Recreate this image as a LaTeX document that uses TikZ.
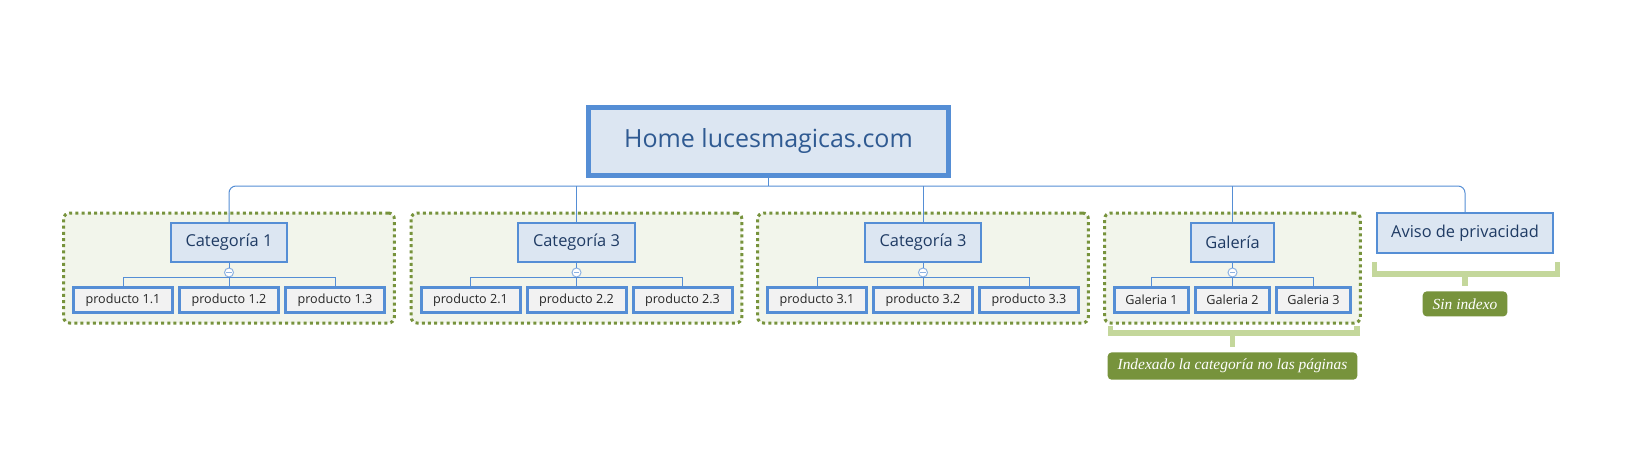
\documentclass[tikz,border=0pt]{standalone}
\usepackage{fontspec}
\setmainfont{Open Sans}
\newfontfamily\tagfont{Liberation Serif}
\usetikzlibrary{positioning,calc,fit,backgrounds}
\definecolor{smBoxBlue}{RGB}{220,230,242}
\definecolor{smLineBlue}{RGB}{85,142,213}
\definecolor{smTextBlue}{RGB}{31,59,100}
\definecolor{smHomeText}{RGB}{47,90,146}
\definecolor{smGray}{RGB}{242,242,242}
\definecolor{smOlive}{RGB}{119,147,60}
\definecolor{smPale}{RGB}{242,245,235}
\definecolor{smBrace}{RGB}{196,215,155}
\definecolor{smFold}{RGB}{141,179,226}
\begin{document}
\begin{tikzpicture}[x=0.5pt,y=-0.5pt,
  home/.style={draw=smLineBlue,line width=2.5pt,fill=smBoxBlue,text=smHomeText,minimum width=180pt,minimum height=34pt,font=\fontsize{12.5}{15}\selectfont},
  cat/.style={draw=smLineBlue,line width=1pt,fill=smBoxBlue,text=smTextBlue,inner xsep=7.3pt,minimum height=19.5pt,font=\fontsize{8.2}{10}\selectfont},
  prod/.style={draw=smLineBlue,line width=1.5pt,fill=smGray,text=black!85,minimum width=49.5pt,minimum height=12.5pt,inner sep=0pt,font=\fontsize{6.3}{7.5}\selectfont},
  gal/.style={prod,minimum width=37pt},
  fold/.style={circle,draw=smFold,fill=white,line width=0.5pt,minimum size=4.5pt,inner sep=0pt,
    path picture={\draw[smFold,line width=0.5pt] ([xshift=-1.3pt]path picture bounding box.center) -- ([xshift=1.3pt]path picture bounding box.center);}},
  link/.style={draw=smLineBlue,line width=0.5pt},
  group/.style={draw=smOlive,fill=smPale,line width=1.5pt,dash pattern=on 1.5pt off 1.6pt,rounded corners=3pt,inner sep=4.5pt,inner xsep=4.2pt},
  brace/.style={draw=smBrace,line width=2.6pt},
  tag/.style={fill=smOlive,rounded corners=2pt,text=white,inner xsep=5pt,minimum height=12.5pt,font=\tagfont\itshape\fontsize{7.7}{9}\selectfont}]
\useasboundingbox (0,0) rectangle (1639,455);

% root
\node[home] (home) at (768.5,141.5) {Home lucesmagicas.com};
\coordinate (hub) at ($(home.south)+(0,8)$);

% categories
\node[cat] (cat1) at (229,242.5) {Categoría 1};
\node[cat] (cat2) at (576.5,242.5) {Categoría 3};
\node[cat] (cat3) at (923,242.5) {Categoría 3};
\node[cat] (cat4) at (1232.5,242.5) {Galería};
\node[cat,minimum height=20pt] (aviso) at (1465,233) {Aviso de privacidad};

% products
\node[prod,below=11.5pt of cat1] (p12) {producto 1.2};
\node[prod,left=2pt of p12] (p11) {producto 1.1};
\node[prod,right=2pt of p12] (p13) {producto 1.3};
\node[prod,below=11.5pt of cat2] (p22) {producto 2.2};
\node[prod,left=2pt of p22] (p21) {producto 2.1};
\node[prod,right=2pt of p22] (p23) {producto 2.3};
\node[prod,below=11.5pt of cat3] (p32) {producto 3.2};
\node[prod,left=2pt of p32] (p31) {producto 3.1};
\node[prod,right=2pt of p32] (p33) {producto 3.3};
\node[gal,below=11.5pt of cat4] (g2) {Galeria 2};
\node[gal,left=2pt of g2] (g1) {Galeria 1};
\node[gal,right=2pt of g2] (g3) {Galeria 3};

% fold marks
\node[fold] (m1) at ($(cat1.south)+(0,9.5)$) {};
\node[fold] (m2) at ($(cat2.south)+(0,9.5)$) {};
\node[fold] (m3) at ($(cat3.south)+(0,9.5)$) {};
\node[fold] (m4) at ($(cat4.south)+(0,9.5)$) {};

% groups
\begin{scope}[on background layer]
\fill[white] (0,0) rectangle (1639,455);
\node[group,fit=(cat1)(p11)(p13)] (grp1) {};
\node[group,fit=(cat2)(p21)(p23)] (grp2) {};
\node[group,fit=(cat3)(p31)(p33)] (grp3) {};
\node[group,fit=(cat4)(g1)(g3)] (grp4) {};
\end{scope}

% links
\draw[link] (home) -- (hub);
\draw[link,rounded corners=3.5pt] (cat1.north) |- (hub) -| (aviso.north);
\draw[link] (cat2.north) -- (cat2.north |- hub);
\draw[link] (cat3.north) -- (cat3.north |- hub);
\draw[link] (cat4.north) -- (cat4.north |- hub);
\draw[link] (cat1) -- (m1);
\draw[link] (cat2) -- (m2);
\draw[link] (cat3) -- (m3);
\draw[link] (cat4) -- (m4);
\draw[link] (p11.north) |- (m1.south) -| (p13.north);
\draw[link] (p21.north) |- (m2.south) -| (p23.north);
\draw[link] (p31.north) |- (m3.south) -| (p33.north);
\draw[link] (g1.north) |- (m4.south) -| (g3.north);
\draw[link] (m1) -- (p12);
\draw[link] (m2) -- (p22);
\draw[link] (m3) -- (p32);
\draw[link] (m4) -- (g2);

% notes
\node[tag,below=13.75pt of grp4] (tag4) {Indexado la categoría no las páginas};
\coordinate (k4) at ($(tag4.north)+(0,-19)$);
\draw[brace] ($(grp4.south west)+(7,1)$) |- (k4) -| ($(grp4.south east)+(-5,1)$);
\draw[brace,shorten >=2.5pt] (k4) -- (tag4);
\node[tag,below=18.5pt of aviso] (tag5) {Sin indexo};
\coordinate (k5) at ($(tag5.north)+(0,-17)$);
\draw[brace] ($(aviso.south west)+(-1,8)$) |- (k5) -| ($(aviso.south east)+(3,8)$);
\draw[brace,shorten >=2.5pt] (k5) -- (tag5);
\end{tikzpicture}
\end{document}
